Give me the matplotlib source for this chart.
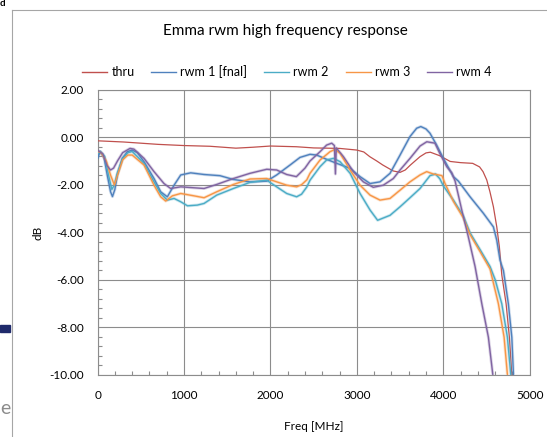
import matplotlib
matplotlib.use("Agg")
import matplotlib.pyplot as plt
from matplotlib.lines import Line2D
from matplotlib.patches import Rectangle
from matplotlib.ticker import MultipleLocator, FormatStrFormatter

plt.rcParams['font.family'] = ['Lato', 'DejaVu Sans']
plt.rcParams['axes.unicode_minus'] = False

# ---- data (freq in MHz, response in dB) ----
thru_f = [0, 300, 700, 1000, 1300, 1600, 1800, 2000, 2300, 2500, 2800, 3000, 3080, 3150,
          3230, 3300, 3420, 3500, 3560, 3620, 3730, 3800, 3850, 3960, 4080, 4200, 4340,
          4420, 4460, 4503, 4540, 4580, 4619, 4649, 4677, 4727, 4765, 4793]
thru_db = [-0.15, -0.2, -0.3, -0.35, -0.38, -0.46, -0.42, -0.37, -0.4, -0.45, -0.47, -0.54,
           -0.62, -0.82, -1.0, -1.17, -1.42, -1.48, -1.38, -1.17, -0.82, -0.66, -0.63, -0.78,
           -1.02, -1.07, -1.1, -1.25, -1.45, -1.8, -2.3, -2.93, -3.78, -4.62, -5.8, -7.02,
           -8.43, -10.0]

rwm1_f = [0, 30, 75, 112, 150, 172, 200, 228, 286, 344, 400, 460, 537, 653, 730, 807, 885,
          962, 1077, 1232, 1416, 1571, 1764, 1957, 2072, 2227, 2342, 2458, 2534, 2650, 2767,
          2922, 3037, 3153, 3268, 3384, 3500, 3615, 3692, 3740, 3800, 3846, 3923, 4001, 4117,
          4175, 4310, 4465, 4580, 4619, 4657, 4696, 4753, 4793, 4812]
rwm1_db = [-0.9, -0.6, -0.85, -1.6, -2.3, -2.5, -2.2, -1.59, -0.89, -0.61, -0.54, -0.65,
           -1.03, -1.74, -2.3, -2.51, -2.02, -1.59, -1.5, -1.57, -1.62, -1.78, -1.88, -1.85,
           -1.59, -1.17, -0.85, -0.72, -0.75, -0.93, -1.1, -1.31, -1.66, -1.95, -1.88, -1.52,
           -0.75, 0.03, 0.38, 0.45, 0.35, 0.17, -0.33, -0.89, -1.66, -1.85, -2.51, -3.21,
           -3.78, -4.34, -5.19, -5.62, -7.02, -8.43, -10.0]

rwm2_f = [0, 30, 80, 120, 165, 195, 230, 290, 350, 400, 537, 653, 730, 807, 885, 962, 1040,
          1154, 1232, 1378, 1571, 1764, 1957, 2072, 2188, 2303, 2360, 2420, 2458, 2574, 2650,
          2728, 2806, 2922, 3037, 3153, 3240, 3384, 3500, 3615, 3731, 3846, 3910, 3960, 4001,
          4117, 4233, 4310, 4426, 4541, 4600, 4677, 4742, 4781]
rwm2_db = [-0.7, -0.6, -0.8, -1.5, -2.2, -2.0, -1.5, -0.9, -0.65, -0.6, -1.1, -1.88, -2.37,
           -2.65, -2.58, -2.72, -2.89, -2.86, -2.79, -2.44, -2.16, -1.9, -1.81, -2.09, -2.37,
           -2.51, -2.4, -2.1, -1.81, -1.24, -0.96, -0.89, -1.03, -1.52, -2.37, -3.07, -3.5,
           -3.29, -2.93, -2.55, -2.16, -1.62, -1.55, -1.75, -2.05, -2.65, -3.33, -4.03, -4.74,
           -5.45, -6.0, -7.02, -8.43, -10.0]

rwm3_f = [0, 40, 100, 150, 195, 230, 290, 350, 400, 537, 653, 730, 788, 865, 962, 1116, 1232,
          1378, 1571, 1764, 1957, 2072, 2188, 2303, 2360, 2420, 2458, 2574, 2689, 2748, 2806,
          2922, 3037, 3153, 3268, 3384, 3500, 3615, 3731, 3808, 3885, 3960, 3985, 4020, 4117,
          4233, 4310, 4426, 4541, 4638, 4704, 4742]
rwm3_db = [-0.6, -0.65, -1.0, -1.6, -2.02, -1.6, -0.95, -0.75, -0.75, -1.17, -2.02, -2.51,
           -2.69, -2.47, -2.37, -2.47, -2.55, -2.3, -1.99, -1.76, -1.74, -1.88, -2.02, -2.09,
           -2.0, -1.8, -1.52, -0.96, -0.61, -0.51, -0.68, -1.38, -2.02, -2.44, -2.65, -2.58,
           -2.23, -1.88, -1.59, -1.45, -1.55, -1.6, -1.62, -1.95, -2.7, -3.4, -4.1, -4.82,
           -5.55, -7.02, -8.43, -10.0]

rwm4_f = [0, 60, 110, 150, 185, 230, 290, 375, 420, 537, 653, 768, 845, 962, 1116, 1232,
          1378, 1571, 1764, 1957, 2072, 2188, 2300, 2345, 2400, 2458, 2574, 2650, 2709, 2740,
          2752, 2762, 2845, 2960, 3075, 3190, 3306, 3422, 3500, 3615, 3731, 3809, 3904, 3960,
          4040, 4098, 4137, 4214, 4290, 4368, 4446, 4522, 4573]
rwm4_db = [-0.55, -0.7, -1.2, -1.38, -1.3, -1.0, -0.65, -0.47, -0.5, -0.89, -1.45, -1.95,
           -2.16, -2.09, -2.13, -2.16, -1.99, -1.74, -1.52, -1.35, -1.38, -1.57, -1.66, -1.5,
           -1.3, -1.0, -0.61, -0.33, -0.25, -0.35, -1.55, -0.45, -0.82, -1.45, -1.88, -2.11,
           -2.02, -1.74, -1.38, -0.89, -0.37, -0.19, -0.25, -0.68, -1.24, -1.5, -1.85, -3.07,
           -4.2, -5.45, -7.02, -8.43, -10.0]

series = [
    ("thru", thru_f, thru_db, "#C0504D"),
    ("rwm 1 [fnal]", rwm1_f, rwm1_db, "#4F81BD"),
    ("rwm 2", rwm2_f, rwm2_db, "#4BACC6"),
    ("rwm 3", rwm3_f, rwm3_db, "#F79646"),
    ("rwm 4", rwm4_f, rwm4_db, "#8064A2"),
]

W, H = 547, 437
fig = plt.figure(figsize=(W / 100, H / 100), dpi=100)

# chart frame (spreadsheet chart object border)
fig.add_artist(Line2D([11.5 / W, 11.5 / W], [0, 1 - 9.5 / H], color="#a6a6a6", lw=0.8))
fig.add_artist(Line2D([11.5 / W, 1], [1 - 9.5 / H, 1 - 9.5 / H], color="#a6a6a6", lw=0.8))
# bits of the sheet behind the chart
fig.text(0, 1 - 4 / H, "d", fontsize=7, fontweight="bold", va="center", ha="left")
fig.add_artist(Rectangle((0, 1 - 332 / H), 10 / W, 7 / H, color="#1f2a6b"))
fig.text(0, 1 - 408 / H, "e", fontsize=14, color="#8c8c8c", va="center", ha="left")

x0, x1, y0, y1 = 97.6, 529.7, 89.8, 374.5
ax = fig.add_axes([x0 / W, 1 - y1 / H, (x1 - x0) / W, (y1 - y0) / H])

for name, f, db, col in series:
    if name == "thru":
        ax.plot(f, db, color=col, lw=0.9, zorder=3)
    else:
        ax.plot(f, db, color=col, lw=2.2, alpha=0.28, zorder=3, solid_capstyle="butt")
        ax.plot(f, db, color=col, lw=1.0, zorder=4)

ax.set_xlim(0, 5000)
ax.set_ylim(-10, 2)
ax.xaxis.set_major_locator(MultipleLocator(1000))
ax.xaxis.set_minor_locator(MultipleLocator(200))
ax.yaxis.set_major_locator(MultipleLocator(2))
ax.yaxis.set_minor_locator(MultipleLocator(0.4))
ax.yaxis.set_major_formatter(FormatStrFormatter("%.2f"))
ax.grid(True, which="major", color="#8c8c8c", lw=0.8)
ax.set_axisbelow(True)
for s in ax.spines.values():
    s.set_color("#8c8c8c")
    s.set_linewidth(0.8)
ax.tick_params(which="major", length=0, labelsize=8.5, colors="black")
ax.tick_params(axis="y", which="major", pad=10)
ax.tick_params(axis="x", which="major", pad=11)
ax.tick_params(which="minor", direction="in", length=3, color="#8c8c8c", width=0.8)

fig.text(285 / W, 1 - 31 / H, "Emma rwm high frequency response", ha="center", va="center",
         fontsize=11)
fig.text(38 / W, 1 - 233 / H, "dB", rotation=90, ha="center", va="center", fontsize=8.5)
fig.text((x0 + x1) / 2 / W, 1 - 426 / H, "Freq [MHz]", ha="center", va="center", fontsize=8.5)

handles = [Line2D([], [], color=col, lw=1.0) for _, _, _, col in series]
labels = [name for name, _, _, _ in series]
fig.legend(handles, labels, loc="center", bbox_to_anchor=(287 / W, 1 - 72 / H), ncol=5,
           frameon=False, fontsize=9, handlelength=2.0, handletextpad=0.32,
           columnspacing=1.36, borderaxespad=0)

fig.savefig("out.png", dpi=100)
